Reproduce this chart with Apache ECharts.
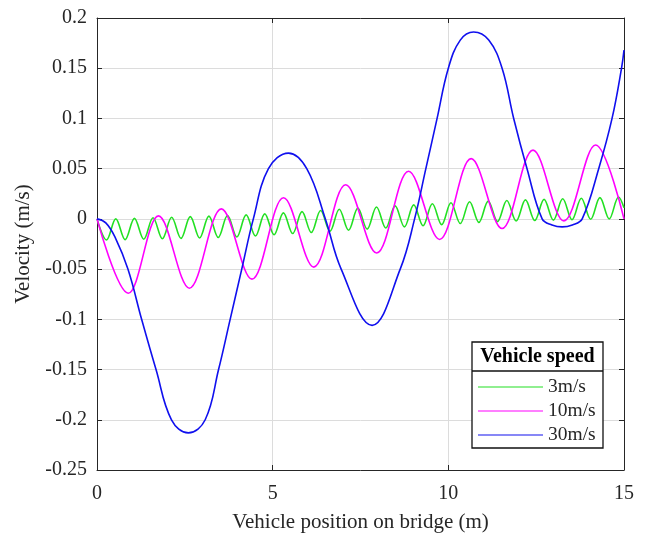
<!DOCTYPE html>
<html>
<head>
<meta charset="utf-8">
<script src="https://cdn.jsdelivr.net/npm/echarts@6/dist/echarts.min.js"></script>
<style>
html,body{margin:0;padding:0;background:#fff;}
#chart{width:646px;height:534px;}
</style>
</head>
<body>
<div id="chart"></div>
<script>
// Vehicle position on bridge (m) and velocity (m/s)
const legendNames = ['3m/s', '10m/s', '30m/s'];
const xTicks = [0, 5, 10, 15];
const yTicks = [-0.25, -0.2, -0.15, -0.1, -0.05, 0, 0.05, 0.1, 0.15, 0.2];

const x3 = [0, 0.27, 0.535, 0.80, 1.065, 1.33, 1.595, 1.86, 2.125, 2.39, 2.655, 2.92, 3.185, 3.45, 3.715,
  3.98, 4.245, 4.51, 4.775, 5.04, 5.305, 5.57, 5.835, 6.10, 6.365, 6.63, 6.895, 7.16, 7.425, 7.69, 7.955,
  8.22, 8.485, 8.75, 9.015, 9.28, 9.545, 9.81, 10.075, 10.34, 10.605, 10.87, 11.135, 11.40, 11.665,
  11.93, 12.195, 12.46, 12.725, 12.99, 13.255, 13.52, 13.785, 14.05, 14.315, 14.58, 14.845, 15];
const v3 = [0, -0.021, 0.0, -0.0206, 0.0005, -0.0202, 0.0011, -0.0198, 0.0017, -0.0194, 0.0023, -0.019, 0.0028, -0.0185, 0.0034,
  -0.018, 0.004, -0.017, 0.005, -0.0158, 0.006, -0.0146, 0.0072, -0.0136, 0.0084, -0.0124, 0.0096, -0.0113, 0.0107, -0.0102, 0.0119,
  -0.0091, 0.013, -0.008, 0.014, -0.0068, 0.0151, -0.0057, 0.0161, -0.0046, 0.0171, -0.0035, 0.0177, -0.0027, 0.0183,
  -0.0021, 0.0189, -0.0016, 0.0194, -0.0012, 0.02, -0.0008, 0.0206, -0.0004, 0.0212, 0.0, 0.0218, 0.011];

const x10 = [0, 0.89, 1.75, 2.63, 3.54, 4.41, 5.31, 6.17, 7.08, 7.96, 8.87, 9.75, 10.65, 11.53, 12.41, 13.29, 14.19, 15];
const v10 = [0, -0.074, 0.003, -0.069, 0.010, -0.060, 0.021, -0.048, 0.034, -0.034, 0.0475, -0.0205, 0.060, -0.0096, 0.0685, -0.002, 0.0735, 0.0];

const x30 = [0, 0.25, 0.51, 0.88, 1.27, 1.68, 2.12, 2.60, 3.08, 3.46, 3.79, 4.12, 4.45, 4.88, 5.45,
  5.97, 6.50, 6.95, 7.83, 8.63, 9.04, 9.36, 9.68, 10.0, 10.34, 10.72, 11.15,
  11.53, 11.86, 12.24, 12.67, 12.95, 13.24, 13.53, 13.81, 14.28, 14.66, 14.93, 15];
const v30 = [0, -0.004, -0.018, -0.05, -0.1, -0.15, -0.2, -0.213, -0.2, -0.15, -0.1, -0.05, 0, 0.05, 0.0655,
  0.05, 0, -0.05, -0.106, -0.05, 0, 0.05, 0.1, 0.15, 0.178, 0.186, 0.178,
  0.15, 0.1, 0.05, 0, -0.006, -0.008, -0.006, 0, 0.05, 0.1, 0.15, 0.168];

const pair = (xs, ys) => xs.map((x, i) => [x, ys[i]]);

const FONT = 'Liberation Serif';
const TXT = '#262626';
const chart = echarts.init(document.getElementById('chart'), null, {renderer: 'canvas'});

const baseX = {
  type: 'value', min: xTicks[0], max: xTicks[xTicks.length - 1], interval: 5,
  axisLine: {show: true, onZero: false, lineStyle: {color: TXT, width: 1}},
  axisTick: {show: true, inside: true, length: 5, lineStyle: {color: TXT}},
};
const baseY = {
  type: 'value', min: yTicks[0], max: yTicks[yTicks.length - 1], interval: 0.05,
  axisLine: {show: true, onZero: false, lineStyle: {color: TXT, width: 1}},
  axisTick: {show: true, inside: true, length: 5, lineStyle: {color: TXT}},
};

chart.setOption({
  backgroundColor: '#fff',
  animation: false,
  grid: {left: 97, top: 18, width: 527, height: 452, show: false, outerBoundsMode: 'none', containLabel: false},
  xAxis: [
    Object.assign({}, baseX, {
      position: 'bottom',
      name: 'Vehicle position on bridge (m)', nameLocation: 'middle', nameGap: 42,
      nameTextStyle: {fontFamily: FONT, fontSize: 21, color: TXT},
      axisLabel: {fontFamily: FONT, fontSize: 20, color: TXT, margin: 14},
      splitLine: {show: true, lineStyle: {color: '#dcdcdc', width: 1}}
    }),
    Object.assign({}, baseX, {
      position: 'top', axisLabel: {show: false}, splitLine: {show: false}
    })
  ],
  yAxis: [
    Object.assign({}, baseY, {
      position: 'left',
      name: 'Velocity (m/s)', nameLocation: 'middle', nameGap: 62, nameRotate: 90,
      nameTextStyle: {fontFamily: FONT, fontSize: 21, color: TXT},
      axisLabel: {fontFamily: FONT, fontSize: 20, color: TXT, margin: 10},
      splitLine: {show: true, lineStyle: {color: '#dcdcdc', width: 1}}
    }),
    Object.assign({}, baseY, {
      position: 'right', axisLabel: {show: false}, splitLine: {show: false}
    })
  ],
  legend: {
    orient: 'vertical', left: 478, top: 377, padding: 0, itemGap: 4,
    itemWidth: 65, itemHeight: 14, z: 10,
    data: legendNames.map(n => ({name: n, icon: 'path://M0,0 L65,0 L65,1 L0,1 Z'})),
    textStyle: {fontFamily: FONT, fontSize: 19.5, color: TXT, lineHeight: 20}
  },
  graphic: [
    {type: 'rect', z: 8, shape: {x: 472, y: 342, width: 131, height: 106},
      style: {fill: '#fff', stroke: '#111', lineWidth: 1.3}},
    {type: 'line', z: 9, shape: {x1: 472, y1: 371, x2: 603, y2: 371},
      style: {stroke: '#111', lineWidth: 1.3}},
    {type: 'text', z: 9, x: 537.5, y: 357,
      style: {text: 'Vehicle speed', fontFamily: FONT, fontSize: 20, fontWeight: 'bold',
        fill: '#000', textAlign: 'center', textVerticalAlign: 'middle'}}
  ],
  series: [
    {name: legendNames[0], type: 'line', data: pair(x3, v3), smooth: 0.36, symbol: 'none',
      lineStyle: {color: '#22e022', width: 1.6}, itemStyle: {color: '#22e022'}},
    {name: legendNames[1], type: 'line', data: pair(x10, v10), smooth: 0.36, symbol: 'none',
      lineStyle: {color: '#ff00ff', width: 1.6}, itemStyle: {color: '#ff00ff'}},
    {name: legendNames[2], type: 'line', data: pair(x30, v30), smooth: 0.4, symbol: 'none',
      lineStyle: {color: '#1010ee', width: 1.6}, itemStyle: {color: '#1010ee'}}
  ]
});
</script>
</body>
</html>
